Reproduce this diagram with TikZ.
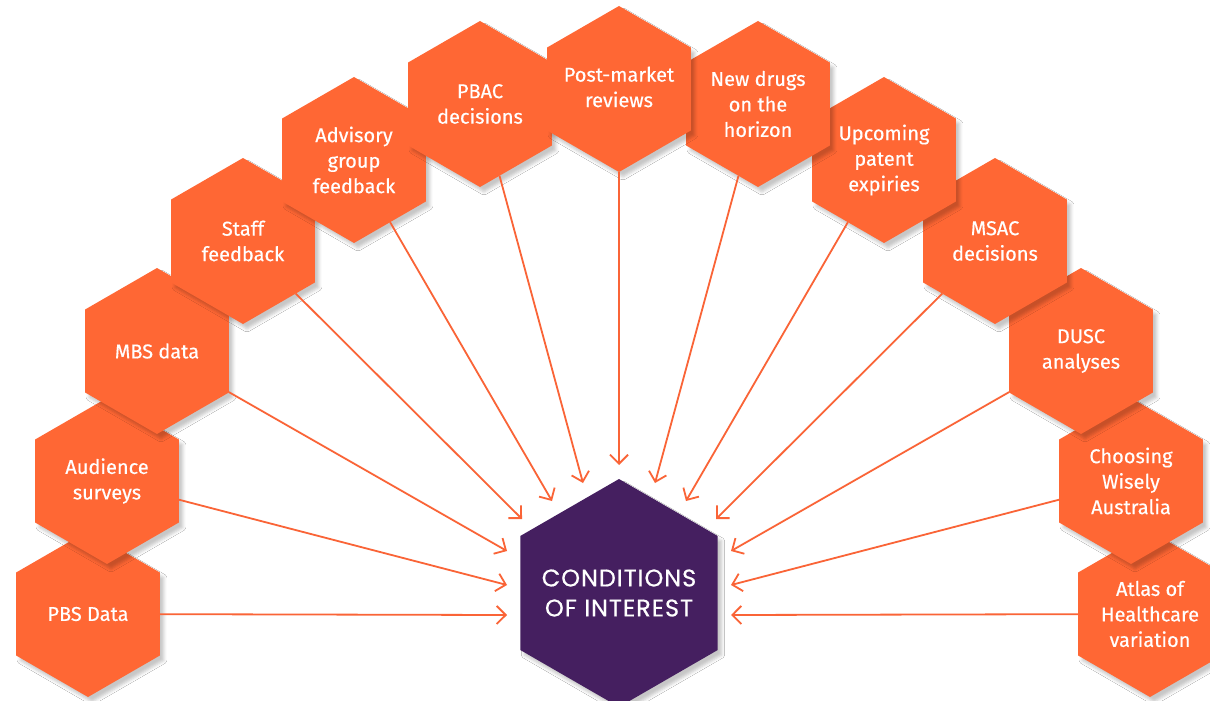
\documentclass[tikz,border=0pt]{standalone}
\usepackage{fontspec}
\setmainfont{Fira Sans}[FakeBold=0.35]
\newfontfamily\ctrfont{Poppins}[LetterSpace=4,FakeBold=0.6]
\usetikzlibrary{shapes.geometric,arrows.meta,shadows.blur}
\definecolor{hexorange}{RGB}{255,103,52}
\definecolor{hexpurple}{RGB}{69,31,96}
\definecolor{arroworange}{RGB}{250,100,55}
\tikzset{
  hexbase/.style={regular polygon, regular polygon sides=6, shape border rotate=30,
    inner sep=0pt, outer sep=0pt,
    blur shadow={shadow xshift=4pt, shadow yshift=-5pt, shadow blur radius=3pt, shadow opacity=22}},
  hexbox/.style={hexbase, minimum size=166pt, fill=hexorange},
  centerhex/.style={hexbase, minimum size=228pt, fill=hexpurple},
  hextext/.style={text=white, align=center, inner sep=0pt,
    font=\fontsize{20}{25.5}\selectfont},
  ctrtext/.style={text=white, align=center, inner sep=0pt,
    font=\ctrfont\fontsize{24}{30}\selectfont},
  feed/.style={draw=arroworange, line width=1.8pt,
    -{Straight Barb[length=9pt,width=18pt]}},
}
\begin{document}
\begin{tikzpicture}[x=1pt,y=-1pt]
\clip (0,0) rectangle (1210,701);
\fill[white] (0,0) rectangle (1210,701);
% left side, from bottom up
\node[hexbox] (pbs) at (88,614) {};
\node[hextext] (pbsT) at (pbs) {PBS Data};
\node[hexbox] (aud) at (107,481) {};
\node[hextext] (audT) at (aud) {Audience\\surveys};
\node[hexbox] (mbs) at (157,351) {};
\node[hextext] (mbsT) at (mbs) {MBS data};
\node[hexbox] (sta) at (243,241) {};
\node[hextext] (staT) at (sta) {Staff\\feedback};
\node[hexbox] (adv) at (354,160) {};
\node[hextext] (advT) at (adv) {Advisory\\group\\feedback};
\node[hexbox] (pbac) at (480,104) {};
\node[hextext] (pbacT) at (pbac) {PBAC\\decisions};
% right side, from bottom up
\node[hexbox] (atl) at (1150,614) {};
\node[hextext] (atlT) at (atl) {Atlas of\\Healthcare\\variation};
\node[hexbox] (cho) at (1131,481) {};
\node[hextext] (choT) at (cho) {Choosing\\Wisely\\Australia};
\node[hexbox] (dusc) at (1081,351) {};
\node[hextext] (duscT) at (dusc) {DUSC\\analyses};
\node[hexbox] (msac) at (995,241) {};
\node[hextext] (msacT) at (msac) {MSAC\\decisions};
\node[hexbox] (upc) at (884,160) {};
\node[hextext] (upcT) at (upc) {Upcoming\\patent\\expiries};
\node[hexbox] (new) at (758,104) {};
\node[hextext] (newT) at (new) {New drugs\\on the\\horizon};
% top
\node[hexbox] (post) at (619,89) {};
\node[hextext] (postT) at ([yshift=2pt]post.center) {Post-market\\reviews};
% centre
\node[centerhex] (coi) at (619,593) {};
\node[ctrtext] (coiT) at (coi) {CONDITIONS\\OF INTEREST};
% arrow tips
\coordinate (tpbs) at (507,615);
\coordinate (taud) at (507,585);
\coordinate (tmbs) at (507,551);
\coordinate (tsta) at (522,519);
\coordinate (tadv) at (552,501);
\coordinate (tpbac) at (583,483);
\coordinate (tpost) at (619,465);
\coordinate (tnew) at (655,483);
\coordinate (tupc) at (686,501);
\coordinate (tmsac) at (716,519);
\coordinate (tdusc) at (731,551);
\coordinate (tcho) at (731,585);
\coordinate (tatl) at (731,615);
% connectors
\draw[feed] (pbs) -- (tpbs);
\draw[feed] (aud) -- (taud);
\draw[feed] (mbs) -- (tmbs);
\draw[feed] (sta) -- (tsta);
\draw[feed] (adv) -- (tadv);
\draw[feed] (pbac) -- (tpbac);
\draw[feed] (post) -- (tpost);
\draw[feed] (new) -- (tnew);
\draw[feed] (upc) -- (tupc);
\draw[feed] (msac) -- (tmsac);
\draw[feed] (dusc) -- (tdusc);
\draw[feed] (cho) -- (tcho);
\draw[feed] (atl) -- (tatl);
\end{tikzpicture}
\end{document}
